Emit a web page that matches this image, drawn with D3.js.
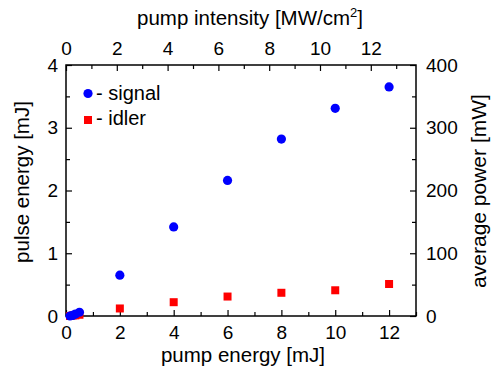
<!DOCTYPE html>
<html>
<head>
<meta charset="utf-8">
<script src="https://cdn.jsdelivr.net/npm/d3@7"></script>
<style>
  body { margin: 0; background: #fff; }
  text { font-family: "Liberation Sans", Arial, sans-serif; fill: #000; }
</style>
</head>
<body>
<svg id="chart" width="495" height="372"></svg>
<script>
// pump energy [mJ] for each measurement
const pumpEnergy = [0.15, 0.25, 0.35, 0.5, 2, 4, 6, 8, 10, 12];
// pulse energy [mJ]
const signalEnergy = [0.0, 0.01, 0.03, 0.06, 0.65, 1.42, 2.16, 2.82, 3.31, 3.65];
const idlerEnergy = [0.0, 0.01, 0.01, 0.02, 0.12, 0.22, 0.31, 0.37, 0.41, 0.51];

const bottomTicks = [0, 2, 4, 6, 8, 10, 12];
const topTicks = [0, 2, 4, 6, 8, 10, 12];
const leftTicks = [0, 1, 2, 3, 4];
const rightTicks = [0, 100, 200, 300, 400];

const svg = d3.select('#chart');
const margin = { left: 66, right: 79, top: 65, bottom: 56 };
const width = 495, height = 372;
const x0 = margin.left, x1 = width - margin.right;
const y0 = height - margin.bottom, y1 = margin.top;

const x = d3.scaleLinear().domain([0, 13]).range([x0, x1]);
const xTop = d3.scaleLinear().domain([0, 13.78]).range([x0, x1]);
const y = d3.scaleLinear().domain([0, 4]).range([y0, y1]);
const yRight = d3.scaleLinear().domain([0, 400]).range([y0, y1]);

const tickFs = 19;
const titleFs = 20.5;

// frame
svg.append('rect')
    .attr('x', x0).attr('y', y1)
    .attr('width', x1 - x0).attr('height', y0 - y1)
    .attr('fill', 'none').attr('stroke', '#000').attr('stroke-width', 1.5);

function styleAxis(g) {
    g.select('.domain').remove();
    g.selectAll('.tick line').attr('stroke', '#000').attr('stroke-width', 1.2);
    g.selectAll('.tick text').style('font-size', tickFs + 'px').attr('fill', '#000');
}

// bottom axis, ticks inward
const gb = svg.append('g').attr('transform', `translate(0,${y0})`)
    .call(d3.axisBottom(x).tickValues(d3.range(0, 14, 1))
        .tickSize(-6).tickPadding(10)
        .tickFormat(d => bottomTicks.includes(d) ? d : ''));
styleAxis(gb);
gb.selectAll('.tick line').attr('y2', d => bottomTicks.includes(d) ? -6 : -4);

const gt = svg.append('g').attr('transform', `translate(0,${y1})`)
    .call(d3.axisTop(xTop).tickValues(d3.range(0, 14, 1))
        .tickSize(-6).tickPadding(10)
        .tickFormat(d => topTicks.includes(d) ? d : ''));
styleAxis(gt);
gt.selectAll('.tick line').attr('y2', d => topTicks.includes(d) ? 6 : 4);

const gl = svg.append('g').attr('transform', `translate(${x0},0)`)
    .call(d3.axisLeft(y).tickValues(d3.range(0, 4.01, 0.5))
        .tickSize(-6).tickPadding(8)
        .tickFormat(d => leftTicks.includes(d) ? d : ''));
styleAxis(gl);
gl.selectAll('.tick line').attr('x2', d => leftTicks.includes(d) ? 6 : 4);

const gr = svg.append('g').attr('transform', `translate(${x1},0)`)
    .call(d3.axisRight(yRight).tickValues(d3.range(0, 401, 50))
        .tickSize(-6).tickPadding(10)
        .tickFormat(d => rightTicks.includes(d) ? d : ''));
styleAxis(gr);
gr.selectAll('.tick line').attr('x2', d => rightTicks.includes(d) ? -6 : -4);

// axis titles
svg.append('text').attr('x', 243).attr('y', 362)
    .attr('text-anchor', 'middle').style('font-size', titleFs + 'px')
    .text('pump energy [mJ]');

const topTitle = svg.append('text').attr('x', 250).attr('y', 25)
    .attr('text-anchor', 'middle').style('font-size', titleFs + 'px');
topTitle.append('tspan').text('pump intensity [MW/cm');
topTitle.append('tspan').attr('dy', -8).style('font-size', '13px').text('2');
topTitle.append('tspan').attr('dy', 8).text(']');

svg.append('text')
    .attr('transform', `translate(29,182) rotate(-90)`)
    .attr('text-anchor', 'middle').style('font-size', titleFs + 'px')
    .text('pulse energy [mJ]');

svg.append('text')
    .attr('transform', `translate(486,191) rotate(-90)`)
    .attr('text-anchor', 'middle').style('font-size', (titleFs + 0.5) + 'px')
    .text('average power [mW]');

// data
const plot = svg.append('g');
plot.selectAll('rect.idler').data(pumpEnergy).join('rect')
    .attr('class', 'idler')
    .attr('x', (d) => x(d) - 4)
    .attr('y', (d, i) => y(idlerEnergy[i]) - 4)
    .attr('width', 8).attr('height', 8)
    .attr('fill', '#ff0000');

plot.selectAll('circle.signal').data(pumpEnergy).join('circle')
    .attr('class', 'signal')
    .attr('cx', d => x(d))
    .attr('cy', (d, i) => y(signalEnergy[i]))
    .attr('r', 4.6)
    .attr('fill', '#0000ff');

// legend
const leg = svg.append('g');
leg.append('circle').attr('cx', 88).attr('cy', 93.5).attr('r', 4.6).attr('fill', '#0000ff');
leg.append('text').attr('x', 96).attr('y', 100).style('font-size', '20px').text('- signal');
leg.append('rect').attr('x', 84).attr('y', 116).attr('width', 8).attr('height', 8).attr('fill', '#ff0000');
leg.append('text').attr('x', 96).attr('y', 125).style('font-size', '20px').text('- idler');
</script>
</body>
</html>
